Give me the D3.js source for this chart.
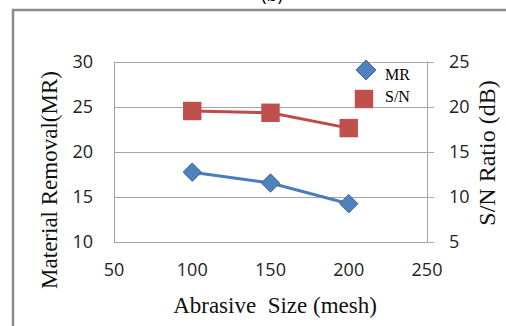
<!DOCTYPE html>
<meta charset="utf-8">
<style>
body { margin: 0; background: #fff; }
</style>
<body>
<script src="https://d3js.org/d3.v7.min.js"></script>
<script>

var sizes = [100, 150, 200];
var mr = [17.7, 16.5, 14.2];
var sn = [19.5, 19.3, 17.6];
var xTicks = [50, 100, 150, 200, 250];
var leftTicks = [10, 15, 20, 25, 30];
var rightTicks = [5, 10, 15, 20, 25];

var width = 506, height = 326;
// plot box (note: "top" is taken by window.top, so use other names)
var plotL = 114, plotR = 427, plotT = 61.5, plotB = 241.5;

var svg = d3.select("body").append("svg")
    .attr("width", width)
    .attr("height", height);

// outer frame, only left and top show in the picture
svg.append("rect")
    .attr("x", 13).attr("y", 10)
    .attr("width", 520).attr("height", 340)
    .attr("fill", "none")
    .attr("stroke", "#8c8c8c")
    .attr("stroke-width", 2.5);

svg.append("text")
    .attr("x", 272).attr("y", 1)
    .attr("text-anchor", "middle")
    .style("font-family", "Open Sans")
    .style("font-size", "18px")
    .text("(b)");

var x = d3.scaleLinear().domain([50, 250]).range([plotL, plotR]);
var yL = d3.scaleLinear().domain([10, 30]).range([plotB, plotT]);
var yR = d3.scaleLinear().domain([5, 25]).range([plotB, plotT]);

// gridlines
svg.append("g").selectAll("line").data(leftTicks).enter()
  .append("line")
    .attr("x1", plotL).attr("x2", plotR + 7)
    .attr("y1", function(d){ return Math.round(yL(d)) + 0.5; })
    .attr("y2", function(d){ return Math.round(yL(d)) + 0.5; })
    .attr("stroke", "#a6a6a6");

// axis lines
svg.append("line")
    .attr("x1", plotL + 0.5).attr("x2", plotL + 0.5)
    .attr("y1", plotT).attr("y2", plotB + 0.5)
    .attr("stroke", "#a6a6a6");
svg.append("line")
    .attr("x1", plotR + 0.5).attr("x2", plotR + 0.5)
    .attr("y1", plotT).attr("y2", plotB + 0.5)
    .attr("stroke", "#a6a6a6");

var tickFont = function(sel) {
  sel.style("font-family", "Open Sans").style("font-size", "18px").attr("fill", "#222");
};

svg.append("g").selectAll("text").data(leftTicks).enter()
  .append("text")
    .attr("x", 93)
    .attr("y", function(d){ return yL(d) + 6.5; })
    .attr("text-anchor", "end")
    .call(tickFont)
    .text(function(d){ return d; });

svg.append("g").selectAll("text").data(rightTicks).enter()
  .append("text")
    .attr("x", 449)
    .attr("y", function(d){ return yR(d) + 6.5; })
    .call(tickFont)
    .text(function(d){ return d; });

svg.append("g").selectAll("text").data(xTicks).enter()
  .append("text")
    .attr("x", function(d){ return x(d); })
    .attr("y", 276)
    .attr("text-anchor", "middle")
    .call(tickFont)
    .text(function(d){ return d; });

var titleFont = function(sel) {
  sel.style("font-family", "Liberation Serif").style("font-size", "23px").attr("fill", "#111");
};

svg.append("text")
    .attr("x", 275).attr("y", 313)
    .attr("text-anchor", "middle")
    .style("white-space", "pre")
    .call(titleFont)
    .text("Abrasive  Size (mesh)");

svg.append("text")
    .attr("transform", "translate(57,180) rotate(-90)")
    .attr("text-anchor", "middle")
    .call(titleFont)
    .text("Material Removal(MR)");

svg.append("text")
    .attr("transform", "translate(495,153) rotate(-90)")
    .attr("text-anchor", "middle")
    .call(titleFont)
    .style("font-size", "24px")
    .text("S/N Ratio (dB)");

// series
var lineMR = d3.line().x(function(d, i){ return x(sizes[i]); }).y(function(d){ return yL(d); });
var lineSN = d3.line().x(function(d, i){ return x(sizes[i]); }).y(function(d){ return yR(d); });

svg.append("path").datum(sn)
    .attr("d", lineSN)
    .attr("fill", "none")
    .attr("stroke", "#be4b48")
    .attr("stroke-width", 3);

svg.append("path").datum(mr)
    .attr("d", lineMR)
    .attr("fill", "none")
    .attr("stroke", "#4a7ebb")
    .attr("stroke-width", 3);

var diamond = d3.symbol().type(d3.symbolDiamond2).size(215);
var bigDiamond = d3.symbol().type(d3.symbolDiamond2).size(250);
var square = d3.symbol().type(d3.symbolSquare).size(340);

svg.append("g").selectAll("path").data(sn).enter()
  .append("path")
    .attr("d", square)
    .attr("transform", function(d, i){ return "translate(" + x(sizes[i]) + "," + yR(d) + ")"; })
    .attr("fill", "#c0504d");

svg.append("g").selectAll("path").data(mr).enter()
  .append("path")
    .attr("d", diamond)
    .attr("transform", function(d, i){ return "translate(" + x(sizes[i]) + "," + yL(d) + ")"; })
    .attr("fill", "#4f81bd")
    .attr("stroke", "#3a6496")
    .attr("stroke-width", 1);

// legend
var legend = svg.append("g");
legend.append("path")
    .attr("d", bigDiamond)
    .attr("transform", "translate(366,70)")
    .attr("fill", "#4f81bd")
    .attr("stroke", "#3a6496");
legend.append("path")
    .attr("d", square)
    .attr("transform", "translate(364,99)")
    .attr("fill", "#c0504d");
legend.append("text")
    .attr("x", 385).attr("y", 80)
    .style("font-family", "Liberation Serif").style("font-size", "16px")
    .text("MR");
legend.append("text")
    .attr("x", 385).attr("y", 102)
    .style("font-family", "Liberation Serif").style("font-size", "16px")
    .text("S/N");

</script>
</body>
